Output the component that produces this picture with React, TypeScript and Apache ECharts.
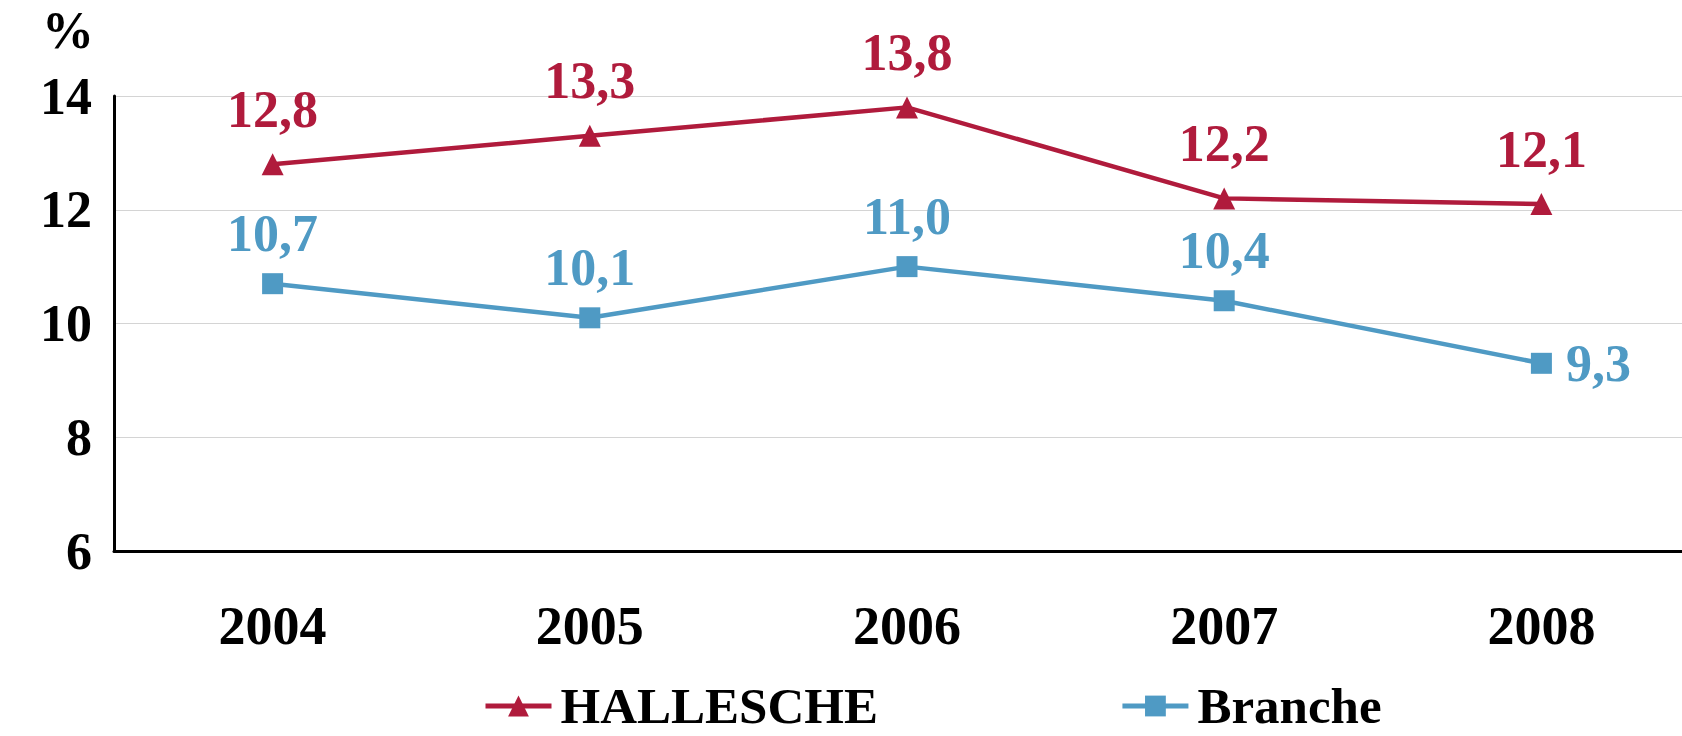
import React, { useEffect, useRef } from "react";
import * as echarts from "echarts";

const years = ["2004", "2005", "2006", "2007", "2008"];
const hallesche = [12.8, 13.3, 13.8, 12.2, 12.1];
const branche = [10.7, 10.1, 11.0, 10.4, 9.3];
const seriesNames = ["HALLESCHE", "Branche"];
const RED = "#B01B3C";
const BLUE = "#4F9AC4";
const FONT = "'Liberation Serif', 'Times New Roman', serif";

const fmt = (v: number) => v.toFixed(1).replace(".", ",");

export default function App() {
  const ref = useRef<HTMLDivElement>(null);
  useEffect(() => {
    if (!ref.current) return;
    const chart = echarts.init(ref.current, null, { renderer: "svg" });
    chart.setOption({
      animation: false,
      backgroundColor: "#ffffff",
      grid: {
        left: 114,
        width: 1586,
        top: 96,
        height: 455,
        containLabel: false,
        outerBoundsMode: "none",
      },
      legend: {
        left: 478,
        top: 675,
        itemGap: 242,
        itemWidth: 66,
        itemHeight: 26,
        data: seriesNames,
        lineStyle: { width: 5 },
        textStyle: {
          fontFamily: FONT,
          fontWeight: "bold",
          fontSize: 51,
          lineHeight: 52,
          color: "#000",
          padding: [0, 0, 0, 4],
        },
      },
      xAxis: {
        type: "category",
        data: years,
        boundaryGap: true,
        axisLine: { lineStyle: { color: "#000", width: 3 } },
        axisTick: { show: false },
        axisLabel: {
          margin: 48,
          fontFamily: FONT,
          fontWeight: "bold",
          fontSize: 54,
          color: "#000",
        },
      },
      yAxis: {
        type: "value",
        min: 6,
        max: 14,
        interval: 2,
        name: "%",
        nameLocation: "end",
        nameGap: 40,
        nameTextStyle: {
          fontFamily: FONT,
          fontWeight: "bold",
          fontSize: 52,
          color: "#000",
          align: "right",
          padding: [0, 20, 0, 0],
        },
        axisLine: { show: true, lineStyle: { color: "#000", width: 3 } },
        axisTick: { show: false },
        splitLine: { lineStyle: { color: "#d4d4d4", width: 1 } },
        axisLabel: {
          margin: 22,
          fontFamily: FONT,
          fontWeight: "bold",
          fontSize: 52,
          color: "#000",
        },
      },
      series: [
        {
          name: seriesNames[0],
          type: "line",
          data: hallesche,
          symbol: "triangle",
          symbolSize: 22,
          color: RED,
          lineStyle: { color: RED, width: 4.5 },
          itemStyle: { color: RED },
          label: {
            show: true,
            position: "top",
            distance: 18,
            formatter: (p: any) => fmt(p.value),
            fontFamily: FONT,
            fontWeight: "bold",
            fontSize: 52,
            color: RED,
          },
        },
        {
          name: seriesNames[1],
          type: "line",
          data: branche.map((v, i) =>
            i === branche.length - 1
              ? { value: v, label: { position: "right", distance: 14 } }
              : v
          ),
          symbol: "rect",
          symbolSize: 21,
          color: BLUE,
          lineStyle: { color: BLUE, width: 4.5 },
          itemStyle: { color: BLUE },
          label: {
            show: true,
            position: "top",
            distance: 14,
            formatter: (p: any) => fmt(p.value),
            fontFamily: FONT,
            fontWeight: "bold",
            fontSize: 52,
            color: BLUE,
          },
        },
      ],
    });
    return () => chart.dispose();
  }, []);
  return (
    <div
      ref={ref}
      style={{ position: "fixed", left: 0, top: 0, width: 1682, height: 736 }}
    />
  );
}
